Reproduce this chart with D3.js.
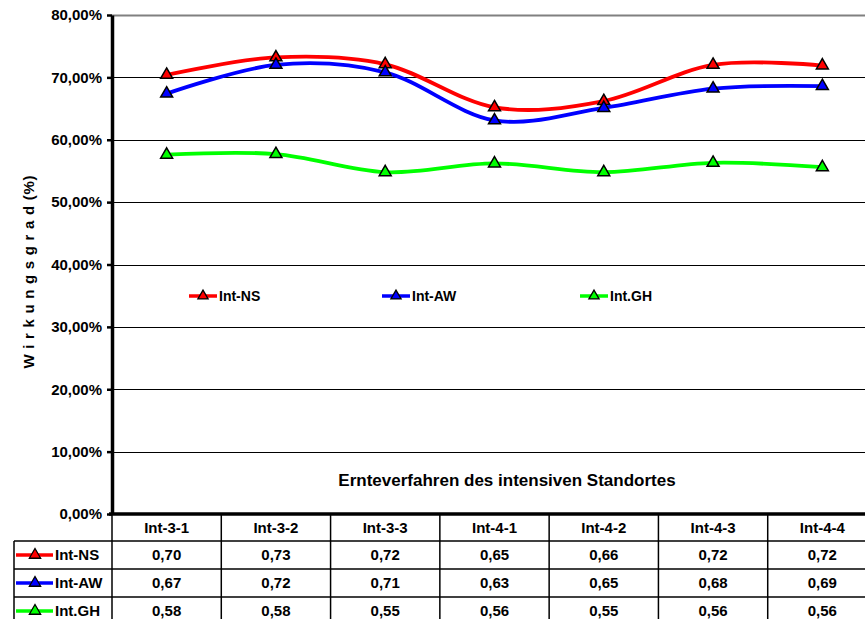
<!DOCTYPE html>
<html>
<head>
<meta charset="utf-8">
<script src="https://cdn.jsdelivr.net/npm/d3@7"></script>
<style>
  body { margin: 0; background: #fff; }
  svg { font-family: "Liberation Sans", Arial, sans-serif; font-weight: bold; }
</style>
</head>
<body>
<script>
// values
let categories = ["Int-3-1", "Int-3-2", "Int-3-3", "Int-4-1", "Int-4-2", "Int-4-3", "Int-4-4"];
let seriesNames = ["Int-NS", "Int-AW", "Int.GH"];
let seriesColors = ["#ff0000", "#0000ff", "#00ff00"];
let intNS = [0.704, 0.732, 0.721, 0.652, 0.662, 0.720, 0.719];
let intAW = [0.674, 0.720, 0.708, 0.631, 0.651, 0.682, 0.686];
let intGH = [0.576, 0.577, 0.548, 0.562, 0.548, 0.563, 0.556];
let yTicks = [0, 0.1, 0.2, 0.3, 0.4, 0.5, 0.6, 0.7, 0.8];

let width = 865,
    height = 619,
    plot = {left: 112, right: 877, top: 15, bottom: 514};

let de = d3.formatLocale({decimal: ",", thousands: ".", grouping: [3], currency: ["", " €"]});
let pct = de.format(".2%"),
    num = de.format(".2f");

let series = [intNS, intAW, intGH].map((vals, i) => ({
    name: seriesNames[i],
    color: seriesColors[i],
    values: vals
}));

let svg = d3.select("body").append("svg")
    .attr("width", width)
    .attr("height", height);

let xScale = d3.scaleBand(categories, [plot.left, plot.right]);
let yScale = d3.scaleLinear([0, 0.8], [plot.bottom, plot.top]);

// gridlines
svg.append("g")
    .selectAll("line")
    .data(yTicks.filter(d => d > 0))
    .join("line")
    .attr("x1", plot.left)
    .attr("x2", plot.right)
    .attr("y1", d => Math.round(yScale(d)) + 0.5)
    .attr("y2", d => Math.round(yScale(d)) + 0.5)
    .attr("stroke", d => d === 0.8 ? "#808080" : "#000")
    .attr("stroke-width", d => d === 0.8 ? 2 : 1.2);

// y axis
let yAxis = svg.append("g")
    .attr("transform", `translate(${plot.left},0)`)
    .call(d3.axisLeft(yScale).tickValues(yTicks).tickFormat(pct).tickSize(5).tickSizeOuter(0));
yAxis.select(".domain").attr("stroke-width", 3.5);
yAxis.selectAll(".tick line").attr("stroke-width", 2.5);
yAxis.selectAll(".tick text")
    .attr("x", -10)
    .attr("font-size", "15px")
    .attr("font-family", "Liberation Sans, Arial, sans-serif")
    .attr("font-weight", "bold")
    .attr("fill", "#000");

// y axis title
svg.append("text")
    .attr("transform", "translate(34,272) rotate(-90)")
    .attr("text-anchor", "middle")
    .attr("font-size", "15px")
    .attr("textLength", 193)
    .attr("lengthAdjust", "spacing")
    .text("W i r k u n g s g r a d (%)");

// x axis title
svg.append("text")
    .attr("x", 507)
    .attr("y", 486)
    .attr("text-anchor", "middle")
    .attr("font-size", "17px")
    .text("Ernteverfahren des intensiven Standortes");

// lines
let line = d3.line()
    .x((d, i) => xScale(categories[i]) + xScale.bandwidth() / 2)
    .y(d => yScale(d))
    .curve(d3.curveCatmullRom.alpha(0));

let triangle = d3.symbol(d3.symbolTriangle, 62);

let groups = svg.selectAll(".series")
    .data(series)
    .join("g")
    .attr("class", "series");

groups.append("path")
    .attr("d", d => line(d.values))
    .attr("fill", "none")
    .attr("stroke", d => d.color)
    .attr("stroke-width", 3.8)
    .attr("stroke-linejoin", "round");

groups.selectAll(".marker")
    .data(d => d.values.map((v, i) => ({v: v, i: i, color: d.color})))
    .join("path")
    .attr("class", "marker")
    .attr("d", triangle)
    .attr("transform", d => `translate(${xScale(categories[d.i]) + xScale.bandwidth() / 2},${yScale(d.v)})`)
    .attr("fill", d => d.color)
    .attr("stroke", "#000")
    .attr("stroke-width", 1.5);

// legend inside the plot
let legendX = [189, 382, 580];
let legend = svg.selectAll(".legend")
    .data(series)
    .join("g")
    .attr("class", "legend")
    .attr("transform", (d, i) => `translate(${legendX[i]},296)`);
legend.append("line")
    .attr("x1", 0).attr("x2", 28)
    .attr("stroke", d => d.color)
    .attr("stroke-width", 3.5);
legend.append("path")
    .attr("d", d3.symbol(d3.symbolTriangle, 45))
    .attr("transform", "translate(14,0)")
    .attr("fill", d => d.color)
    .attr("stroke", "#000")
    .attr("stroke-width", 1.3);
legend.append("text")
    .attr("x", 30)
    .attr("dy", "0.36em")
    .attr("font-size", "14px")
    .text(d => d.name);

// data table under the x axis
let rowTop = [541, 569, 597],
    rowH = 28,
    tableLeft = 14;

let table = svg.append("g").attr("stroke", "#000").attr("stroke-width", 1.5);
rowTop.forEach(y => {
    table.append("line")
        .attr("x1", tableLeft).attr("x2", plot.right)
        .attr("y1", y).attr("y2", y);
});
table.append("line")
    .attr("x1", tableLeft).attr("x2", tableLeft)
    .attr("y1", rowTop[0]).attr("y2", height);
table.selectAll(".col")
    .data(categories.concat([null]))
    .join("line")
    .attr("x1", (d, i) => plot.left + i * xScale.bandwidth())
    .attr("x2", (d, i) => plot.left + i * xScale.bandwidth())
    .attr("y1", plot.bottom)
    .attr("y2", height);

// x axis line (thick)
svg.append("line")
    .attr("x1", plot.left - 3)
    .attr("x2", plot.right)
    .attr("y1", plot.bottom)
    .attr("y2", plot.bottom)
    .attr("stroke", "#000")
    .attr("stroke-width", 3.5);

// header row
svg.selectAll(".catLabel")
    .data(categories)
    .join("text")
    .attr("class", "catLabel")
    .attr("x", d => xScale(d) + xScale.bandwidth() / 2)
    .attr("y", 528)
    .attr("dy", "0.36em")
    .attr("text-anchor", "middle")
    .attr("font-size", "15px")
    .text(d => d);

// value rows
series.forEach((s, r) => {
    let cy = rowTop[r] + rowH / 2;
    let key = svg.append("g").attr("transform", `translate(16,${cy})`);
    key.append("line")
        .attr("x1", 0).attr("x2", 37)
        .attr("stroke", s.color)
        .attr("stroke-width", 3.5);
    key.append("path")
        .attr("d", d3.symbol(d3.symbolTriangle, 55))
        .attr("transform", "translate(19,0)")
        .attr("fill", s.color)
        .attr("stroke", "#000")
        .attr("stroke-width", 1.3);
    svg.append("text")
        .attr("x", 55)
        .attr("y", cy)
        .attr("dy", "0.36em")
        .attr("font-size", "15px")
        .text(s.name);
    svg.selectAll(".val" + r)
        .data(s.values)
        .join("text")
        .attr("x", (d, i) => xScale(categories[i]) + xScale.bandwidth() / 2)
        .attr("y", cy)
        .attr("dy", "0.36em")
        .attr("text-anchor", "middle")
        .attr("font-size", "15px")
        .text(d => num(d));
});
</script>
</body>
</html>
